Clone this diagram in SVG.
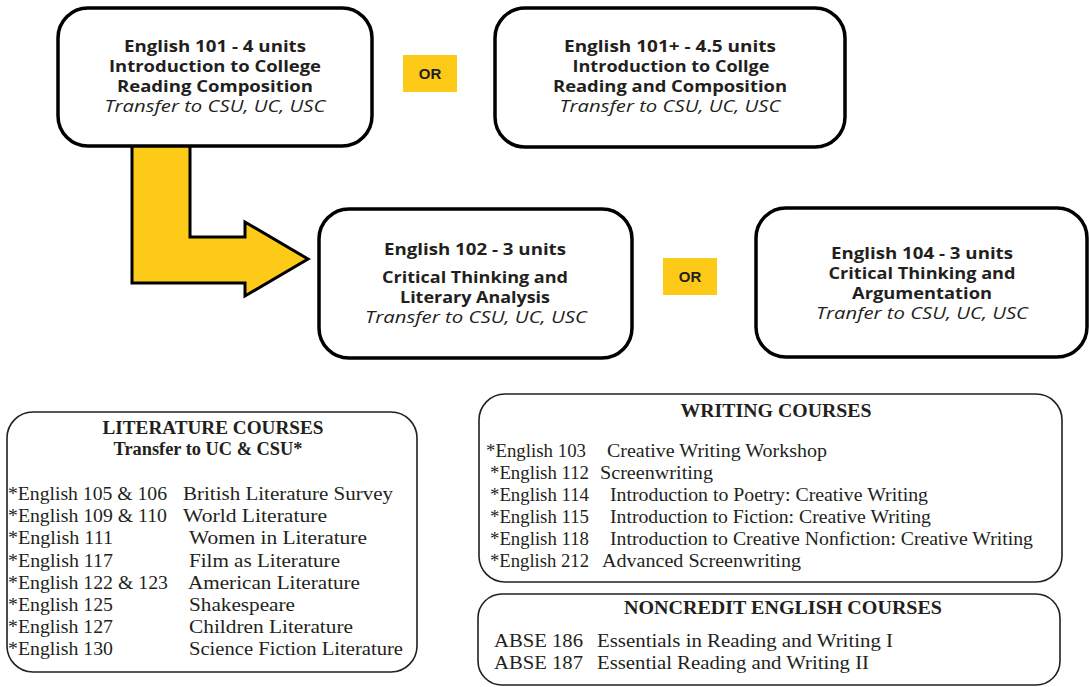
<svg xmlns="http://www.w3.org/2000/svg" width="1089" height="687" viewBox="0 0 1089 687">
<style>
.top{fill:#fff;stroke:#000;stroke-width:3.5}
.low{fill:#fff;stroke:#231f20;stroke-width:1.6}
.or{fill:#fdcb17}
.ort{font-family:"Liberation Sans",Arial,sans-serif;font-weight:bold;font-size:15px;fill:#231f20;text-anchor:middle}
.b{font-family:"Open Sans","Liberation Sans",sans-serif;font-weight:bold;font-size:16px;fill:#231f20;text-anchor:middle}
.i{font-family:"Open Sans","Liberation Sans",sans-serif;font-style:italic;font-size:16px;fill:#231f20;text-anchor:middle}
.s{font-family:"Liberation Serif","Times New Roman",serif;font-size:18.5px;fill:#231f20}
.sh{font-family:"Liberation Serif","Times New Roman",serif;font-size:18px;font-weight:bold;fill:#231f20;text-anchor:middle}
</style>
<rect width="1089" height="687" fill="#fff"/>
<g id="connectors">
<path d="M132,140 L190,140 L190,237 L245,237 L245,222 L308,259 L245,296 L245,283 L132,283 Z" fill="#fdcb17" stroke="#000" stroke-width="3" stroke-linejoin="miter"/>
</g>
<g id="eng101">
<rect class="top" x="58" y="8" width="314" height="138" rx="30"/>
<text class="b" x="215" y="52" textLength="182" lengthAdjust="spacingAndGlyphs">English 101 - 4 units</text>
<text class="b" x="215" y="72" textLength="212" lengthAdjust="spacingAndGlyphs">Introduction to College</text>
<text class="b" x="215" y="92" textLength="196" lengthAdjust="spacingAndGlyphs">Reading Composition</text>
<text class="i" x="215" y="112" textLength="221" lengthAdjust="spacingAndGlyphs">Transfer to CSU, UC, USC</text>
</g>
<g id="or1">
<rect class="or" x="403" y="55" width="54" height="37"/>
<text class="ort" x="430" y="79">OR</text>
</g>
<g id="eng101plus">
<rect class="top" x="495" y="8" width="350" height="139" rx="30"/>
<text class="b" x="670" y="52" textLength="212" lengthAdjust="spacingAndGlyphs">English 101+ - 4.5 units</text>
<text class="b" x="671" y="72" textLength="197" lengthAdjust="spacingAndGlyphs">Introduction to Collge</text>
<text class="b" x="670" y="92" textLength="234" lengthAdjust="spacingAndGlyphs">Reading and Composition</text>
<text class="i" x="670" y="112" textLength="221" lengthAdjust="spacingAndGlyphs">Transfer to CSU, UC, USC</text>
</g>
<g id="eng102">
<rect class="top" x="319" y="209" width="313" height="149" rx="30"/>
<text class="b" x="475" y="255" textLength="182" lengthAdjust="spacingAndGlyphs">English 102 - 3 units</text>
<text class="b" x="475" y="283" textLength="186" lengthAdjust="spacingAndGlyphs">Critical Thinking and</text>
<text class="b" x="475" y="303" textLength="150" lengthAdjust="spacingAndGlyphs">Literary Analysis</text>
<text class="i" x="476" y="323" textLength="222" lengthAdjust="spacingAndGlyphs">Transfer to CSU, UC, USC</text>
</g>
<g id="or2">
<rect class="or" x="663" y="258" width="54" height="37"/>
<text class="ort" x="690" y="282">OR</text>
</g>
<g id="eng104">
<rect class="top" x="756" y="208" width="331" height="149" rx="30"/>
<text class="b" x="922" y="259" textLength="182" lengthAdjust="spacingAndGlyphs">English 104 - 3 units</text>
<text class="b" x="922" y="279" textLength="187" lengthAdjust="spacingAndGlyphs">Critical Thinking and</text>
<text class="b" x="922" y="299" textLength="140" lengthAdjust="spacingAndGlyphs">Argumentation</text>
<text class="i" x="922" y="319" textLength="212" lengthAdjust="spacingAndGlyphs">Tranfer to CSU, UC, USC</text>
</g>
<g id="literature">
<rect class="low" x="7" y="412" width="410" height="260" rx="26"/>
<text class="sh" x="213" y="434" textLength="221" lengthAdjust="spacingAndGlyphs">LITERATURE COURSES</text>
<text class="sh" x="208" y="455" textLength="189" lengthAdjust="spacingAndGlyphs">Transfer to UC &amp; CSU*</text>
<g class="s">
<text x="8" y="500" textLength="159" lengthAdjust="spacingAndGlyphs">*English 105 &amp; 106</text>
<text x="183" y="500" textLength="210" lengthAdjust="spacingAndGlyphs">British Literature Survey</text>
<text x="8" y="522" textLength="159" lengthAdjust="spacingAndGlyphs">*English 109 &amp; 110</text>
<text x="183" y="522" textLength="144" lengthAdjust="spacingAndGlyphs">World Literature</text>
<text x="8" y="544" textLength="105" lengthAdjust="spacingAndGlyphs">*English 111</text>
<text x="189" y="544" textLength="178" lengthAdjust="spacingAndGlyphs">Women in Literature</text>
<text x="8" y="567" textLength="105" lengthAdjust="spacingAndGlyphs">*English 117</text>
<text x="189" y="567" textLength="151" lengthAdjust="spacingAndGlyphs">Film as Literature</text>
<text x="8" y="589" textLength="160" lengthAdjust="spacingAndGlyphs">*English 122 &amp; 123</text>
<text x="188" y="589" textLength="172" lengthAdjust="spacingAndGlyphs">American Literature</text>
<text x="8" y="611" textLength="105" lengthAdjust="spacingAndGlyphs">*English 125</text>
<text x="189" y="611" textLength="106" lengthAdjust="spacingAndGlyphs">Shakespeare</text>
<text x="8" y="633" textLength="105" lengthAdjust="spacingAndGlyphs">*English 127</text>
<text x="189" y="633" textLength="164" lengthAdjust="spacingAndGlyphs">Children Literature</text>
<text x="8" y="655" textLength="105" lengthAdjust="spacingAndGlyphs">*English 130</text>
<text x="189" y="655" textLength="214" lengthAdjust="spacingAndGlyphs">Science Fiction Literature</text>
</g>
</g>
<g id="writing">
<rect class="low" x="479" y="394" width="583" height="188" rx="26"/>
<text class="sh" x="776" y="417" textLength="191" lengthAdjust="spacingAndGlyphs">WRITING COURSES</text>
<g class="s">
<text x="486" y="457" textLength="100" lengthAdjust="spacingAndGlyphs">*English 103</text>
<text x="607" y="457" textLength="220" lengthAdjust="spacingAndGlyphs">Creative Writing Workshop</text>
<text x="490" y="479" textLength="99" lengthAdjust="spacingAndGlyphs">*English 112</text>
<text x="600" y="479" textLength="113" lengthAdjust="spacingAndGlyphs">Screenwriting</text>
<text x="490" y="501" textLength="99" lengthAdjust="spacingAndGlyphs">*English 114</text>
<text x="610" y="501" textLength="318" lengthAdjust="spacingAndGlyphs">Introduction to Poetry: Creative Writing</text>
<text x="490" y="523" textLength="99" lengthAdjust="spacingAndGlyphs">*English 115</text>
<text x="610" y="523" textLength="321" lengthAdjust="spacingAndGlyphs">Introduction to Fiction: Creative Writing</text>
<text x="490" y="545" textLength="99" lengthAdjust="spacingAndGlyphs">*English 118</text>
<text x="610" y="545" textLength="423" lengthAdjust="spacingAndGlyphs">Introduction to Creative Nonfiction: Creative Writing</text>
<text x="490" y="567" textLength="99" lengthAdjust="spacingAndGlyphs">*English 212</text>
<text x="602" y="567" textLength="199" lengthAdjust="spacingAndGlyphs">Advanced Screenwriting</text>
</g>
</g>
<g id="noncredit">
<rect class="low" x="478" y="594" width="582" height="91" rx="24"/>
<text class="sh" x="783" y="614" textLength="318" lengthAdjust="spacingAndGlyphs">NONCREDIT ENGLISH COURSES</text>
<g class="s">
<text x="494" y="647" textLength="89" lengthAdjust="spacingAndGlyphs">ABSE 186</text>
<text x="597" y="647" textLength="296" lengthAdjust="spacingAndGlyphs">Essentials in Reading and Writing I</text>
<text x="494" y="669" textLength="89" lengthAdjust="spacingAndGlyphs">ABSE 187</text>
<text x="597" y="669" textLength="272" lengthAdjust="spacingAndGlyphs">Essential Reading and Writing II</text>
</g>
</g>
</svg>
